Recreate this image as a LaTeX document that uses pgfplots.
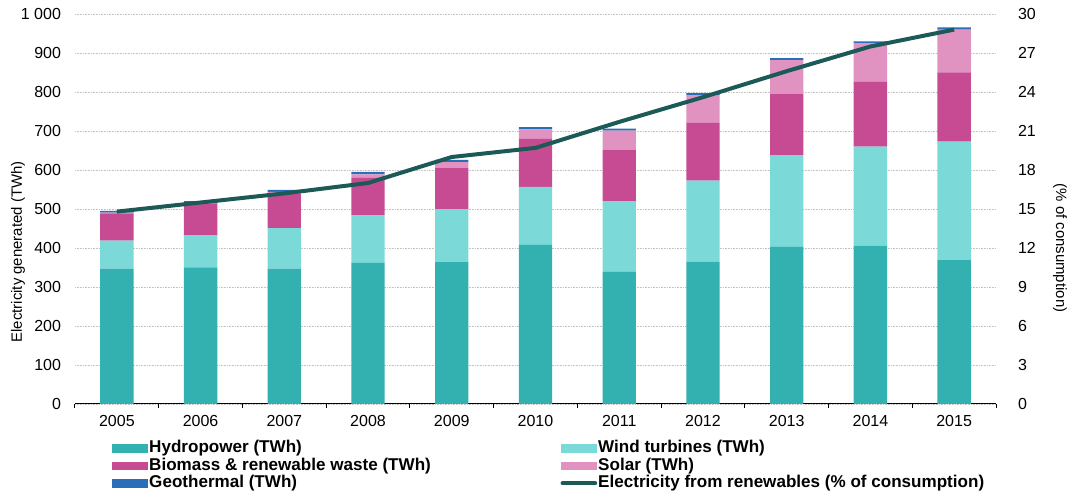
\documentclass[border=0pt]{standalone}
\usepackage{fontspec}
\setmainfont{Liberation Sans}
\usepackage{pgfplots}
\usepackage{pgfplotstable}
\pgfplotsset{compat=1.18}

\definecolor{hydro}{HTML}{33B0B0}
\definecolor{wind}{HTML}{7BDAD8}
\definecolor{biomass}{HTML}{C64B92}
\definecolor{solar}{HTML}{E093C0}
\definecolor{geo}{HTML}{2A6EB8}
\definecolor{share}{HTML}{1B5A57}
\definecolor{gridgray}{HTML}{C4C4C4}

\pgfplotsset{
  linelegend/.style={legend image code/.code={%
    \draw[##1, line cap=round] (1.5pt,0pt) -- (26pt,0pt);}},
}

% x = 0 ... 10 stands for 2005 ... 2015
\pgfplotstableread{
x  hydro wind biomass solar geo pct
0  347   72   70      2     4   14.8
1  350   83   80      1     6   15.5
2  347   104  89      4     5   16.2
3  362   122  96      9     6   17.0
4  364   135  107     14    6   19.0
5  408   149  123     24    6   19.7
6  339   181  132     49    5   21.7
7  365   208  148     71    5   23.6
8  403   235  158     86    5   25.6
9  406   254  166     99    5   27.5
10 369   304  177     110   6   28.8
}\data

\begin{document}
\begin{tikzpicture}
\begin{axis}[
  at={(0,0)}, anchor=south west,
  scale only axis,
  width=690.75pt, height=292.5pt,
  ybar stacked,
  bar width=25pt,
  xmin=-0.5, xmax=10.5,
  ymin=0, ymax=1000,
  axis x line*=bottom,
  axis y line*=left,
  y axis line style={draw=none},
  x axis line style={line width=0.75pt},
  xtick={0,...,10},
  xticklabels={2005,2006,2007,2008,2009,2010,2011,2012,2013,2014,2015},
  extra x ticks={-0.5,0.5,...,10.5},
  extra x tick labels={},
  extra x tick style={major tick length=3pt, tick align=outside,
    tick style={line width=0.75pt, black}},
  major tick length=0pt,
  ytick={0,100,...,1000},
  yticklabels={0,100,200,300,400,500,600,700,800,900,1 000},
  ticklabel style={font=\fontsize{12}{14}\selectfont},
  yticklabel style={xshift=-7pt},
  xticklabel style={yshift=-5pt},
  ymajorgrids,
  grid style={gridgray, line width=0.6pt, dash pattern=on 0.6pt off 0.6pt},
  ylabel={Electricity generated (TWh)},
  every axis y label/.style={at={(axis description cs:-0.0619,0.39)},
    rotate=90, anchor=center, font=\fontsize{11.2}{13}\selectfont},
  legend image code/.code={\fill[#1] (0pt,-3.2pt) rectangle (27pt,3.2pt);},
  legend columns=2,
  legend cell align=left,
  legend style={at={(axis description cs:0.0358,-0.084)}, anchor=north west,
    draw=none, fill=none, row sep=0pt,
    font=\bfseries\fontsize{12.8}{13}\selectfont,
    nodes={inner sep=0.75pt, text height=9pt, text depth=2.6pt},
    /tikz/every even column/.append style={column sep=96.5pt}},
]
\addplot[fill=hydro, draw=none] table[x=x, y=hydro] {\data};
\addplot[fill=wind, draw=none] table[x=x, y=wind] {\data};
\addplot[fill=biomass, draw=none] table[x=x, y=biomass] {\data};
\addplot[fill=solar, draw=none] table[x=x, y=solar] {\data};
\addplot[fill=geo, draw=none] table[x=x, y=geo] {\data};
\addlegendimage{share, line width=3pt, linelegend}
\legend{Hydropower (TWh), Wind turbines (TWh),
  Biomass \& renewable waste (TWh), Solar (TWh),
  Geothermal (TWh), Electricity from renewables (\% of consumption)}
\end{axis}

\begin{axis}[
  at={(0,0)}, anchor=south west,
  scale only axis,
  width=690.75pt, height=292.5pt,
  xmin=-0.5, xmax=10.5,
  ymin=0, ymax=30,
  axis x line=none,
  axis y line*=right,
  y axis line style={draw=none},
  major tick length=0pt,
  ytick={0,3,...,30},
  yticklabels={0,3,6,9,12,15,18,21,24,27,30},
  ticklabel style={font=\fontsize{12}{14}\selectfont},
  yticklabel style={xshift=13pt},
  ylabel={(\% of consumption)},
  every axis y label/.style={at={(axis description cs:1.0695,0.40)},
    rotate=-90, anchor=center, font=\fontsize{11.2}{13}\selectfont},
]
\addplot[share, line width=3pt, mark=none] table[x=x, y=pct] {\data};
\end{axis}

\pgfresetboundingbox
\path[use as bounding box] (-56.25pt,-69pt) rectangle (747.75pt,303pt);
\end{tikzpicture}
\end{document}
